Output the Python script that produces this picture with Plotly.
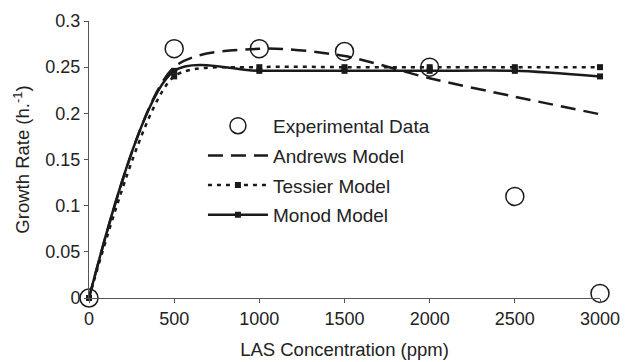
import plotly.graph_objects as go

x_vals = [0, 500, 1000, 1500, 2000, 2500, 3000]
experimental = [0.0, 0.27, 0.27, 0.267, 0.25, 0.11, 0.005]
andrews = [0.0, 0.25, 0.27, 0.262, 0.238, 0.218, 0.199]
tessier = [0.0, 0.24, 0.25, 0.25, 0.25, 0.25, 0.25]
monod = [0.0, 0.246, 0.246, 0.246, 0.246, 0.246, 0.24]

x_ticks = [0, 500, 1000, 1500, 2000, 2500, 3000]
y_ticks = [0, 0.05, 0.1, 0.15, 0.2, 0.25, 0.3]
y_labels = ["0", "0.05", "0.1", "0.15", "0.2", "0.25", "0.3"]

ink = "#1a1a1a"
fam = "Liberation Sans"
font = dict(family=fam, size=18, color="#222")
title_font = dict(family=fam, size=18.5, color="#222")

fig = go.Figure()
fig.add_trace(go.Scatter(
    x=x_vals, y=andrews, name="Andrews Model", mode="lines", legendgroup="b",
    line=dict(color=ink, width=2.5, dash="15px,8px", shape="spline", smoothing=0.8),
    cliponaxis=False, legendrank=2))
fig.add_trace(go.Scatter(
    x=x_vals, y=tessier, name="Tessier Model", mode="lines+markers", legendgroup="c",
    line=dict(color=ink, width=2.5, dash="4px,5px", shape="spline", smoothing=0.7),
    marker=dict(symbol="square", size=6, color=ink),
    cliponaxis=False, legendrank=3))
fig.add_trace(go.Scatter(
    x=x_vals, y=monod, name="Monod Model", mode="lines+markers", legendgroup="d",
    line=dict(color=ink, width=2.5, shape="spline", smoothing=0.8),
    marker=dict(symbol="square", size=6, color=ink),
    cliponaxis=False, legendrank=4))
fig.add_trace(go.Scatter(
    x=x_vals, y=experimental, name="Experimental Data", mode="markers", legendgroup="a",
    marker=dict(symbol="circle", size=18, color="rgba(255,255,255,0)",
                line=dict(color=ink, width=1.5)),
    cliponaxis=False, legendrank=1))

fig.update_layout(
    width=625, height=362,
    margin=dict(l=89, r=25, t=21, b=64),
    paper_bgcolor="white", plot_bgcolor="white",
    font=font,
    showlegend=True,
    legend=dict(x=0.223, y=0.69, xanchor="left", yanchor="top",
                bgcolor="rgba(0,0,0,0)", font=dict(family=fam, size=19, color="#222"),
                traceorder="grouped", tracegroupgap=2, itemwidth=60),
    xaxis=dict(range=[0, 3000], tickvals=x_ticks, showgrid=False, zeroline=False,
               showline=True, linecolor="#555", linewidth=1, automargin=False,
               ticks="outside", ticklen=4, tickcolor="#555",
               title=dict(text="LAS Concentration (ppm)", standoff=15, font=title_font)),
    yaxis=dict(range=[0, 0.3], tickvals=y_ticks, ticktext=y_labels, showgrid=False,
               zeroline=False, showline=True, linecolor="#555", linewidth=1,
               automargin=True, ticks="outside", ticklen=4, tickcolor="#555",
               title=dict(text="Growth Rate (h.<sup>-1</sup>)", standoff=10, font=title_font)),
)

fig.write_html("out.html")
